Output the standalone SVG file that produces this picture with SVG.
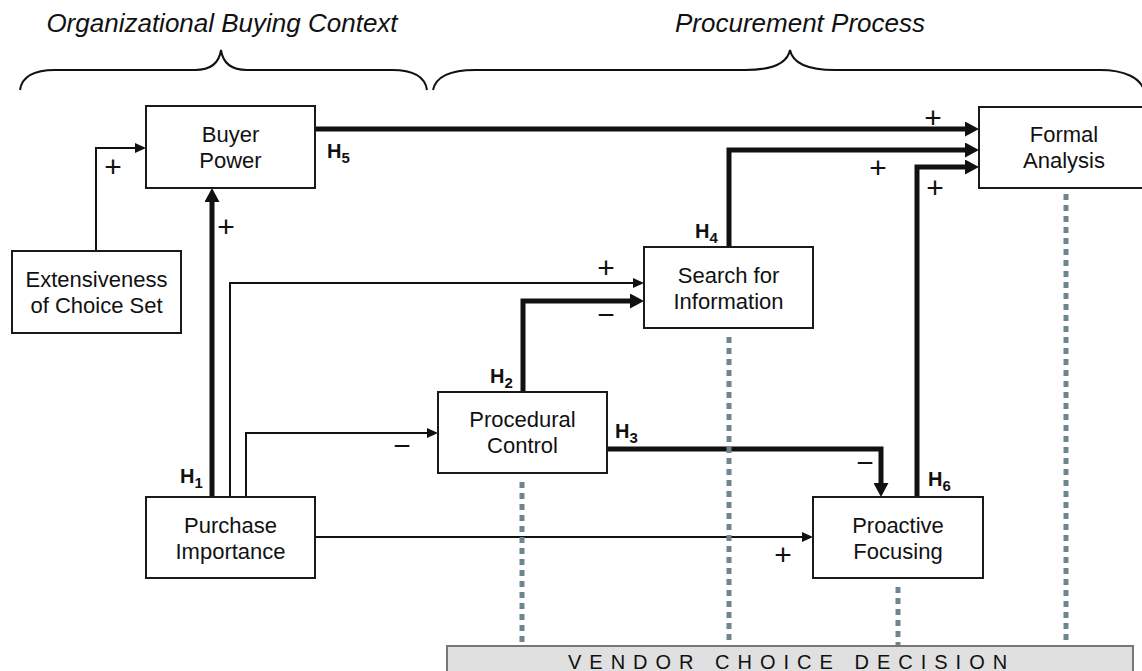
<svg xmlns="http://www.w3.org/2000/svg" width="1142" height="671" viewBox="0 0 1142 671">
<style>
  .box{fill:#fff;stroke:#1a1a1a;stroke-width:2}
  .lbl{font-family:"Liberation Sans",Arial,sans-serif;font-size:22px;fill:#111;text-anchor:middle}
  .title{font-family:"Liberation Sans",Arial,sans-serif;font-size:26px;font-style:italic;fill:#111;text-anchor:middle}
  .brace{fill:none;stroke:#111;stroke-width:2}
  .thin{fill:none;stroke:#111;stroke-width:2;marker-end:url(#aThin)}
  .thick{fill:none;stroke:#111;stroke-width:5;stroke-linejoin:miter;marker-end:url(#aThick)}
  .sign{font-family:"Liberation Sans",Arial,sans-serif;font-size:30px;fill:#111;text-anchor:middle}
  .h{font-family:"Liberation Sans",Arial,sans-serif;font-size:20px;font-weight:bold;fill:#111}
  .sub{font-size:15px}
  .dot{fill:none;stroke:#6f8690;stroke-width:5;stroke-dasharray:6 5}
  .vcd{fill:#e0e0e0;stroke:#777;stroke-width:2}
  .vcdt{font-family:"Liberation Sans",Arial,sans-serif;font-size:20px;letter-spacing:8px;fill:#111}
</style>
<defs>
  <marker id="aThin" markerUnits="userSpaceOnUse" markerWidth="11" markerHeight="10" refX="3" refY="5" orient="auto">
    <path d="M0,0 L11,5 L0,10 z" fill="#111"/>
  </marker>
  <marker id="aThick" markerUnits="userSpaceOnUse" markerWidth="14" markerHeight="15" refX="4" refY="7.5" orient="auto">
    <path d="M0,0 L14,7.5 L0,15 z" fill="#111"/>
  </marker>
</defs>

<g id="headers">
  <text class="title" x="222" y="32">Organizational Buying Context</text>
  <text class="title" x="800" y="32">Procurement Process</text>
  <path class="brace" d="M20,90 C22,76 34,70 55,70 L195,70 C210,70 219,64 221,50 C223,64 232,70 247,70 L392,70 C413,70 425,76 427,90"/>
  <path class="brace" d="M433,90 C436,76 450,70 475,70 L745,70 C770,70 787,65 790,50 C793,65 810,70 835,70 L1100,70 C1125,70 1140,78 1144,90"/>
</g>

<g id="connectors">
  <path class="thin" d="M96,251 V148 H138"/>
  <path class="thick" d="M212,497 V198"/>
  <path class="thin" d="M230,497 V283 H636"/>
  <path class="thin" d="M246,497 V433 H430"/>
  <path class="thin" d="M315,537 H805"/>
  <path class="thick" d="M523,392 V301 H634"/>
  <path class="thick" d="M607,449 H881 V487"/>
  <path class="thick" d="M315,129 H969"/>
  <path class="thick" d="M729,247 V150 H969"/>
  <path class="thick" d="M917,497 V167 H969"/>
</g>

<g id="signs">
  <text class="sign" x="113" y="177">+</text>
  <text class="sign" x="226" y="237">+</text>
  <text class="sign" x="933" y="128">+</text>
  <text class="sign" x="878" y="178">+</text>
  <text class="sign" x="935" y="198">+</text>
  <text class="sign" x="606" y="278">+</text>
  <text class="sign" x="783" y="565">+</text>
  <text class="sign" x="606" y="325">−</text>
  <text class="sign" x="402" y="456">−</text>
  <text class="sign" x="865" y="473">−</text>
</g>

<g id="hypotheses">
  <text class="h" x="327" y="158">H<tspan class="sub" dy="5">5</tspan></text>
  <text class="h" x="695" y="238">H<tspan class="sub" dy="5">4</tspan></text>
  <text class="h" x="490" y="383">H<tspan class="sub" dy="5">2</tspan></text>
  <text class="h" x="615" y="438">H<tspan class="sub" dy="5">3</tspan></text>
  <text class="h" x="180" y="483">H<tspan class="sub" dy="5">1</tspan></text>
  <text class="h" x="928" y="486">H<tspan class="sub" dy="5">6</tspan></text>
</g>

<g id="node-buyer-power">
  <rect class="box" x="146" y="106" width="169" height="82"/>
  <text class="lbl" x="230.5" y="142">Buyer</text>
  <text class="lbl" x="230.5" y="168">Power</text>
</g>
<g id="node-extensiveness">
  <rect class="box" x="12" y="251" width="169" height="82"/>
  <text class="lbl" x="96.5" y="287">Extensiveness</text>
  <text class="lbl" x="96.5" y="313">of Choice Set</text>
</g>
<g id="node-formal-analysis">
  <rect class="box" x="979" y="107" width="170" height="81"/>
  <text class="lbl" x="1064" y="142">Formal</text>
  <text class="lbl" x="1064" y="168">Analysis</text>
</g>
<g id="node-search">
  <rect class="box" x="644" y="247" width="169" height="81"/>
  <text class="lbl" x="728.5" y="283">Search for</text>
  <text class="lbl" x="728.5" y="309">Information</text>
</g>
<g id="node-procedural">
  <rect class="box" x="438" y="392" width="169" height="81"/>
  <text class="lbl" x="522.5" y="427">Procedural</text>
  <text class="lbl" x="522.5" y="453">Control</text>
</g>
<g id="node-purchase">
  <rect class="box" x="146" y="497" width="169" height="81"/>
  <text class="lbl" x="230.5" y="533">Purchase</text>
  <text class="lbl" x="230.5" y="559">Importance</text>
</g>
<g id="node-proactive">
  <rect class="box" x="813" y="497" width="170" height="81"/>
  <text class="lbl" x="898" y="533">Proactive</text>
  <text class="lbl" x="898" y="559">Focusing</text>
</g>

<g id="guides">
  <path class="dot" d="M522,482 V645"/>
  <path class="dot" d="M729,337 V645"/>
  <path class="dot" d="M898,587 V645"/>
  <path class="dot" d="M1066,194 V645"/>
</g>

<g id="node-vendor-choice">
  <rect class="vcd" x="447" y="646" width="686" height="40"/>
  <text class="vcdt" x="568" y="669">VENDOR CHOICE DECISION</text>
</g>
</svg>
